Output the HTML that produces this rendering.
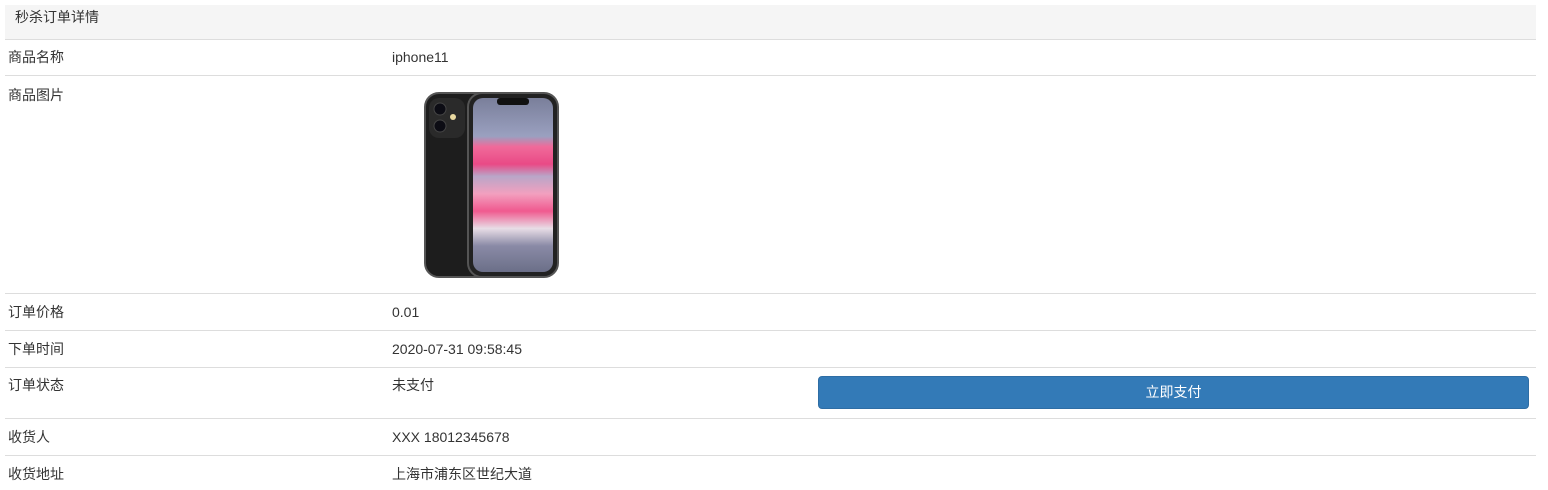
<!DOCTYPE html>
<html><head><meta charset="utf-8"><style>
body{margin:0;background:#fff;font-family:"Liberation Sans","Noto Sans CJK SC",sans-serif;font-size:14px;color:#333;width:1548px;height:490px;overflow:hidden;position:relative}
.abs{position:absolute}
.line{position:absolute;left:5px;width:1531px;height:1px;background:#ddd}
.t{position:absolute;line-height:20px;white-space:nowrap}
</style></head><body>
<div class="abs" style="left:5px;top:5px;width:1531px;height:485px;">
<div class="abs" style="left:0;top:0;width:1531px;height:34px;background:#f5f5f5;border-bottom:1px solid #ddd"></div>
</div>
<div class="t" style="left:15px;top:7px">秒杀订单详情</div>
<div class="line" style="top:75px"></div>
<div class="line" style="top:293px"></div>
<div class="line" style="top:330px"></div>
<div class="line" style="top:367px"></div>
<div class="line" style="top:418px"></div>
<div class="line" style="top:455px"></div>

<div class="t" style="left:8px;top:47px">商品名称</div>
<div class="t" style="left:392px;top:47px">iphone11</div>
<div class="t" style="left:8px;top:85px">商品图片</div>
<svg class="abs" style="left:420px;top:90px" width="145" height="190" viewBox="0 0 145 190">
<defs><linearGradient id="sc" x1="0" y1="0" x2="0" y2="1">
<stop offset="0" stop-color="#7a7f9a"/><stop offset="0.22" stop-color="#9aa0c0"/><stop offset="0.28" stop-color="#f06a9a"/><stop offset="0.38" stop-color="#e94a86"/><stop offset="0.45" stop-color="#b9a6c8"/><stop offset="0.55" stop-color="#f2a0bf"/><stop offset="0.65" stop-color="#f05a8f"/><stop offset="0.75" stop-color="#e8dde6"/><stop offset="0.85" stop-color="#8a8aa6"/><stop offset="1" stop-color="#6b6f88"/></linearGradient></defs>
<rect x="5" y="3" width="90" height="184" rx="14" fill="#1d1d1d" stroke="#555" stroke-width="2"/>
<rect x="9" y="8" width="36" height="40" rx="10" fill="#2a2a2a"/>
<circle cx="20" cy="19" r="6" fill="#0c0c14" stroke="#444"/>
<circle cx="20" cy="36" r="6" fill="#0c0c14" stroke="#444"/>
<circle cx="33" cy="27" r="3" fill="#e8d8a0"/>
<rect x="48" y="3" width="90" height="184" rx="14" fill="#222" stroke="#555" stroke-width="2"/>
<rect x="53" y="8" width="80" height="174" rx="10" fill="url(#sc)"/>
<rect x="77" y="8" width="32" height="7" rx="3" fill="#111"/>
</svg>
<div class="t" style="left:8px;top:302px">订单价格</div>
<div class="t" style="left:392px;top:302px">0.01</div>
<div class="t" style="left:8px;top:339px">下单时间</div>
<div class="t" style="left:392px;top:339px">2020-07-31 09:58:45</div>
<div class="t" style="left:8px;top:375px">订单状态</div>
<div class="t" style="left:392px;top:375px">未支付</div>
<div class="abs" style="left:818px;top:376px;width:711px;height:33px;background:#337ab7;border:1px solid #2e6da4;box-sizing:border-box;border-radius:4px;color:#fff;text-align:center;line-height:31px">立即支付</div>
<div class="t" style="left:8px;top:427px">收货人</div>
<div class="t" style="left:392px;top:427px">XXX 18012345678</div>
<div class="t" style="left:8px;top:464px">收货地址</div>
<div class="t" style="left:392px;top:464px">上海市浦东区世纪大道</div>
</body></html>
